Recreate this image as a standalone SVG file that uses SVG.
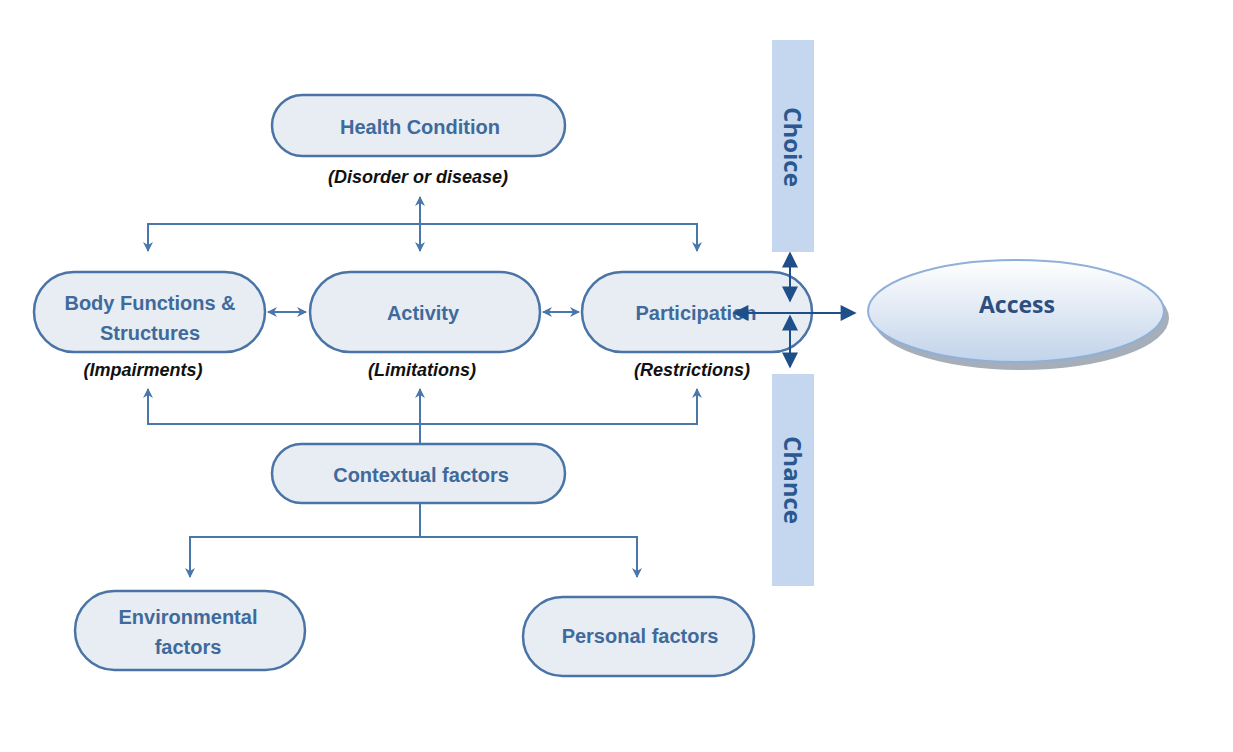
<svg xmlns="http://www.w3.org/2000/svg" width="1233" height="752" viewBox="0 0 1233 752">
<defs>
<style>
.box{fill:#e8edf3;stroke:#4a74a6;stroke-width:2.5}
.bt{font-family:"Liberation Sans",Arial,sans-serif;font-weight:bold;font-size:20px;fill:#3f6a9c;text-anchor:middle}
.it{font-family:"Liberation Sans",Arial,sans-serif;font-weight:bold;font-style:italic;font-size:18px;fill:#111;text-anchor:middle}
.cn{fill:none;stroke:#4a77aa;stroke-width:2}
.ac{fill:none;stroke:#1f4f88;stroke-width:2}
.bar{fill:#c5d7ef}
.bar-t{font-family:"Open Sans","Liberation Sans",sans-serif;font-weight:bold;font-size:24px;fill:#2a5890;text-anchor:middle}
</style>
<marker id="ah" viewBox="0 0 10 10" refX="9" refY="5" markerWidth="10" markerHeight="10" orient="auto-start-reverse" markerUnits="userSpaceOnUse">
<path d="M0,0 L10,5 L0,10 L3,5 z" fill="#4a77aa"/>
</marker>
<marker id="ah2" viewBox="0 0 10 10" refX="9" refY="5" markerWidth="18" markerHeight="16" orient="auto-start-reverse" markerUnits="userSpaceOnUse">
<path d="M0,0 L10,5 L0,10 z" fill="#1f4f88"/>
</marker>
<linearGradient id="eg" x1="0" y1="0" x2="0" y2="1">
<stop offset="0" stop-color="#ffffff"/>
<stop offset="1" stop-color="#c2d3ea"/>
</linearGradient>
</defs>
<rect width="1233" height="752" fill="#ffffff"/>

<g id="bar-choice">
<rect class="bar" x="772" y="40" width="42" height="212"/>
<text class="bar-t" transform="translate(784,147) rotate(90)">Choice</text>
</g>
<g id="bar-chance">
<rect class="bar" x="772" y="374" width="42" height="212"/>
<text class="bar-t" transform="translate(784,480) rotate(90)">Chance</text>
</g>

<g id="health-condition">
<rect class="box" x="272" y="95" width="293" height="61" rx="30.5"/>
<text class="bt" x="420" y="134">Health Condition</text>
<text class="it" x="418" y="183">(Disorder or disease)</text>
</g>
<g id="body-functions">
<rect class="box" x="34" y="272" width="231" height="80" rx="40"/>
<text class="bt" x="150" y="310">Body Functions &amp;</text>
<text class="bt" x="150" y="340">Structures</text>
<text class="it" x="143" y="376">(Impairments)</text>
</g>
<g id="activity">
<rect class="box" x="310" y="272" width="230" height="80" rx="40"/>
<text class="bt" x="423" y="320">Activity</text>
<text class="it" x="422" y="376">(Limitations)</text>
</g>
<g id="participation">
<rect class="box" x="582" y="272" width="230" height="80" rx="40"/>
<text class="bt" x="696" y="320">Participation</text>
<text class="it" x="692" y="376">(Restrictions)</text>
</g>
<g id="contextual-factors">
<rect class="box" x="272" y="444" width="293" height="59" rx="29.5"/>
<text class="bt" x="421" y="482">Contextual factors</text>
</g>
<g id="environmental-factors">
<rect class="box" x="75" y="591" width="230" height="79" rx="39.5"/>
<text class="bt" x="188" y="624">Environmental</text>
<text class="bt" x="188" y="654">factors</text>
</g>
<g id="personal-factors">
<rect class="box" x="523" y="597" width="231" height="79" rx="39.5"/>
<text class="bt" x="640" y="643">Personal factors</text>
</g>

<g id="connectors">
<line class="cn" x1="420" y1="197" x2="420" y2="251" marker-start="url(#ah)" marker-end="url(#ah)"/>
<polyline class="cn" points="148,251 148,224 697,224 697,251" marker-start="url(#ah)" marker-end="url(#ah)"/>
<line class="cn" x1="268" y1="312" x2="306" y2="312" marker-start="url(#ah)" marker-end="url(#ah)"/>
<line class="cn" x1="543" y1="312" x2="579" y2="312" marker-start="url(#ah)" marker-end="url(#ah)"/>
<polyline class="cn" points="148,389 148,424 697,424 697,389" marker-start="url(#ah)" marker-end="url(#ah)"/>
<line class="cn" x1="420" y1="444" x2="420" y2="389" marker-end="url(#ah)"/>
<line class="cn" x1="420" y1="503" x2="420" y2="537"/>
<polyline class="cn" points="190,577 190,537 637,537 637,577" marker-start="url(#ah)" marker-end="url(#ah)"/>
<line class="ac" x1="734" y1="313" x2="855" y2="313" marker-start="url(#ah2)" marker-end="url(#ah2)"/>
<line class="ac" x1="790" y1="253" x2="790" y2="301" marker-start="url(#ah2)" marker-end="url(#ah2)"/>
<line class="ac" x1="790" y1="316" x2="790" y2="367" marker-start="url(#ah2)" marker-end="url(#ah2)"/>
</g>

<g id="access">
<ellipse cx="1021" cy="318" rx="148" ry="52" fill="#8f9aa8" opacity="0.8"/>
<ellipse cx="1016" cy="311" rx="148" ry="51" fill="url(#eg)" stroke="#8fb0d8" stroke-width="2"/>
<text x="1017" y="313" font-family="'Open Sans','Liberation Sans',sans-serif" font-weight="bold" font-size="23" fill="#2c4f7f" text-anchor="middle">Access</text>
</g>
</svg>
